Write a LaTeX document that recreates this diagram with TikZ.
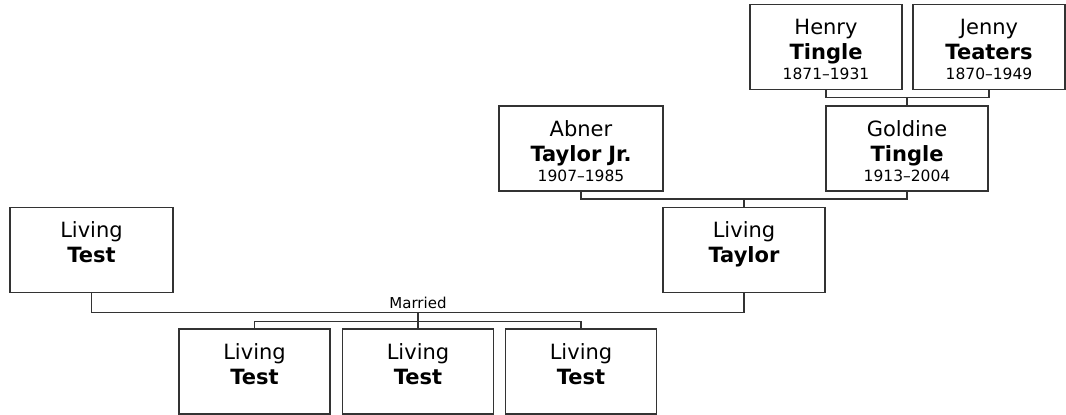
\documentclass[tikz,border=0pt]{standalone}
\usepackage{fontspec}
\setmainfont{DejaVu Sans}
\usetikzlibrary{calc}

\newcommand\lifespan[1]{{\fontsize{15.5}{20}\selectfont #1}}

\begin{document}
\begin{tikzpicture}[x=1pt, y=-1pt, line width=1.3pt,
  every node/.style={align=center},
  person/.style={draw=black!80, text width=#1, minimum width=#1, minimum height=85pt,
    inner sep=0pt, text height=30pt, text depth=55pt,
    font=\fontsize{21}{25}\selectfont},
  person/.default=163pt,
  link/.style={draw=black!80}]
  \useasboundingbox (0,0) rectangle (1066,415);

  % grandparents
  \node[person=152pt] (henry) at (826,47) {Henry\\\textbf{Tingle}\\[-5pt]\lifespan{1871--1931}};
  \node[person=152pt] (jenny) at (989,47) {Jenny\\\textbf{Teaters}\\[-5pt]\lifespan{1870--1949}};

  % parents
  \node[person=164pt] (abner) at (581,148.5) {Abner\\\textbf{Taylor Jr.}\\[-5pt]\lifespan{1907--1985}};
  \node[person=162pt] (goldine) at (907,148.5) {Goldine\\\textbf{Tingle}\\[-5pt]\lifespan{1913--2004}};

  % couple
  \node[person] (test) at (91.5,250) {Living\\\textbf{Test}};
  \node[person=162pt] (taylor) at (744,250) {Living\\\textbf{Taylor}};

  % children
  \node[person=151pt] (kid1) at (254.5,371.5) {Living\\\textbf{Test}};
  \node[person=151pt] (kid2) at (418,371.5) {Living\\\textbf{Test}};
  \node[person=151pt] (kid3) at (581,371.5) {Living\\\textbf{Test}};

  % family lines
  \coordinate (hj) at ($(goldine.north)+(0,-8)$);
  \draw[link] (henry.south) |- (hj) -| (jenny.south);
  \draw[link] (hj) -- (goldine.north);

  \coordinate (ag) at ($(taylor.north)+(0,-8)$);
  \draw[link] (abner.south) |- (ag) -| (goldine.south);
  \draw[link] (ag) -- (taylor.north);

  \coordinate (wed) at ($(kid2.north)+(0,-16)$);
  \draw[link] (test.south) |- (wed) -| (taylor.south);
  \node[anchor=base, inner sep=0pt, font=\fontsize{15}{18}\selectfont] (married) at ($(wed)+(0,-3.5)$) {Married};
  \draw[link] (wed) -- (kid2.north);

  \coordinate (sib) at ($(kid2.north)+(0,-7)$);
  \draw[link] (kid1.north) |- (sib) -| (kid3.north);
\end{tikzpicture}
\end{document}
